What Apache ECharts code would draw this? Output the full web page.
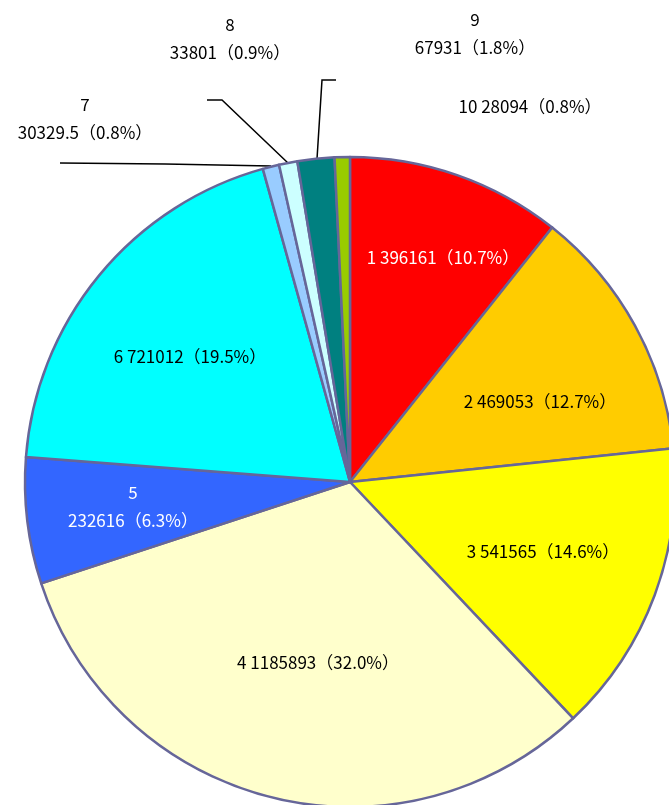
<!DOCTYPE html>
<html>
<head>
<meta charset="utf-8">
<script src="https://cdn.jsdelivr.net/npm/echarts@6/dist/echarts.min.js"></script>
<style>
  html, body { margin: 0; padding: 0; background: #fff; }
  #chart-panel { width: 669px; height: 805px; }
</style>
</head>
<body>
<div id="chart-panel"></div>
<script>
// 数据
var names = ['1', '2', '3', '4', '5', '6', '7', '8', '9', '10'];
var values = [396161, 469053, 541565, 1185893, 232616, 721012, 30329.5, 33801, 67931, 28094];
var colors = ['#ff0000', '#ffcc00', '#ffff00', '#ffffcc', '#3366ff', '#00ffff', '#99ccff', '#ccffff', '#008080', '#99cc00'];
var labelColors = ['#fff', '#000', '#000', '#000', '#fff', '#000', '#000', '#000', '#000', '#000'];
// 两行显示的标签
var twoLine = [false, false, false, false, true, false, true, true, true, false];

// 标签位置 (中心点)
var labelPos = [
  [443, 258], [540, 402], [543, 552], [318, 663], [133, 507],
  [190, 357], [85, 119], [230, 39], [475, 34], [530, 107]
];
// 引导线
var leaderLines = {
  6: [[60, 163], [165, 164], [271, 166]],
  7: [[207, 100], [222, 100], [288, 163]],
  8: [[336, 80], [322, 80], [317, 159]]
};

let total = values.reduce((a, b) => a + b, 0);

let myChart = echarts.init(document.getElementById('chart-panel'));

let pieData = values.map((v, i) => {
  return {
    name: names[i],
    value: v,
    itemStyle: { color: colors[i] },
    label: { color: labelColors[i] },
    labelLine: { show: !!leaderLines[i] }
  };
});

myChart.setOption({
  backgroundColor: '#fff',
  animation: false,
  series: [{
    type: 'pie',
    center: [350, 482],
    radius: 325,
    startAngle: 90,
    clockwise: true,
    avoidLabelOverlap: false,
    data: pieData,
    itemStyle: {
      borderColor: '#666699',
      borderWidth: 2.5
    },
    label: {
      show: true,
      position: 'outside',
      fontFamily: '"Noto Sans CJK JP", sans-serif',
      fontSize: 17,
      lineHeight: 28,
      align: 'center',
      formatter: p => {
        let pct = (p.value / total * 100).toFixed(1);
        let sep = twoLine[p.dataIndex] ? '\n' : ' ';
        return p.name + sep + p.value + '（' + pct + '%）';
      }
    },
    labelLine: {
      lineStyle: { color: '#000', width: 1.5 }
    },
    labelLayout: params => {
      let i = params.dataIndex;
      let res = {
        x: labelPos[i][0],
        y: labelPos[i][1],
        align: 'center',
        verticalAlign: 'middle'
      };
      if (leaderLines[i]) res.labelLinePoints = leaderLines[i];
      return res;
    }
  }]
});
</script>
</body>
</html>
